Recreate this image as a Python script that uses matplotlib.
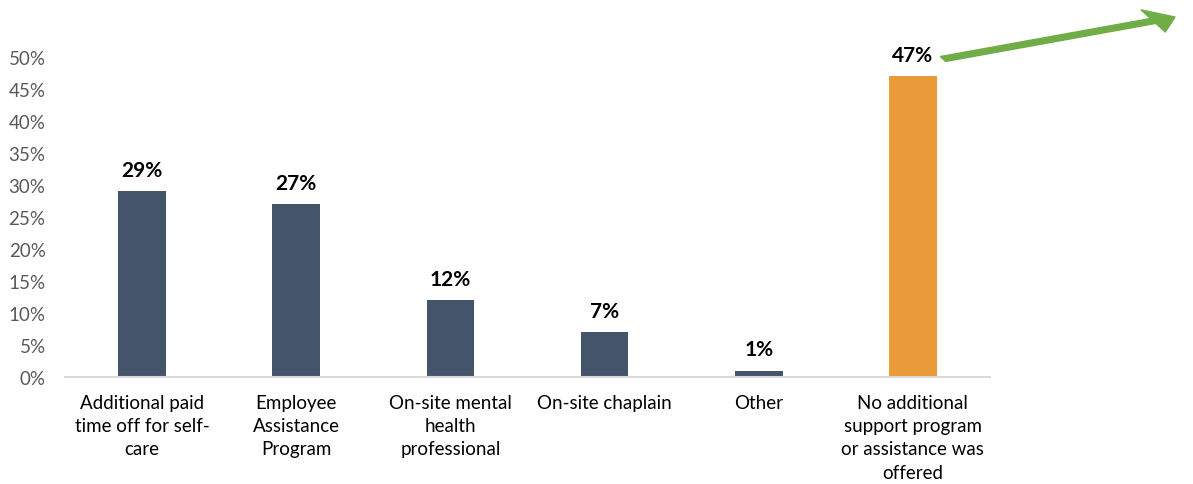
import numpy as np
import matplotlib
matplotlib.use("Agg")
from matplotlib import pyplot as plt
from matplotlib.ticker import PercentFormatter

# data
kategorije = ["Additional paid\ntime off for self-\ncare",
              "Employee\nAssistance\nProgram",
              "On-site mental\nhealth\nprofessional",
              "On-site chaplain",
              "Other",
              "No additional\nsupport program\nor assistance was\noffered"]
vrednosti = [0.29, 0.27, 0.12, 0.07, 0.01, 0.47]
oznake = ["29%", "27%", "12%", "7%", "1%", "47%"]
boje = ["#44546A"] * 5 + ["#EA9A38"]

plt.rcParams['font.family'] = ['Lato', 'DejaVu Sans']

fig = plt.figure(figsize=(11.93, 4.85), dpi=100)
ax = fig.add_axes([65/1193, 1 - 378/485, (990 - 65)/1193, (378 - 58)/485])

x = np.arange(len(vrednosti))
ax.bar(x, vrednosti, width=0.31, color=boje, zorder=2)

for xi, v, t in zip(x, vrednosti, oznake):
    ax.annotate(t, (xi, v), xytext=(0, 8), textcoords='offset points',
                ha='center', va='bottom', fontsize=15, fontweight='bold',
                color='black', annotation_clip=False)

ax.set_xlim(-0.5, len(vrednosti) - 0.5)
ax.set_ylim(0, 0.5)
ax.set_yticks(np.arange(0, 0.51, 0.05))
ax.yaxis.set_major_formatter(PercentFormatter(1.0, decimals=0))
ax.set_xticks(x)
ax.set_xticklabels(kategorije, fontsize=13.5, color='black', linespacing=1.45)
ax.tick_params(axis='y', labelsize=13.5, labelcolor='#595959', length=0, pad=14)
ax.tick_params(axis='x', length=0, pad=12)

for s in ['top', 'right', 'left']:
    ax.spines[s].set_visible(False)
ax.spines['bottom'].set_color('#D9D9D9')
ax.spines['bottom'].set_linewidth(1.5)

# zelena strelica
fig.patches.append(matplotlib.patches.FancyArrow(
    943/1193, 1 - 60/485, (1175 - 943)/1193, (60 - 18)/485,
    width=0.011, head_width=0.05, head_length=0.02,
    length_includes_head=True, color='#70AD47', transform=fig.transFigure))

fig.savefig("out.png", dpi=100)
